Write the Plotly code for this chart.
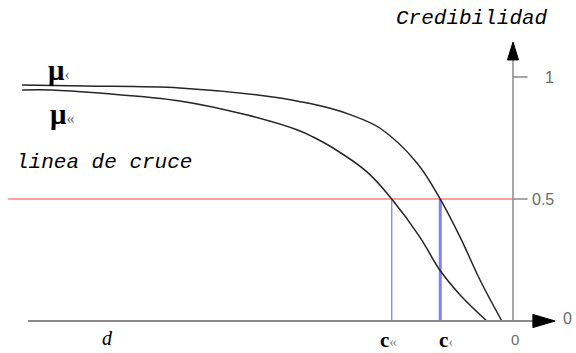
import plotly.graph_objects as go

# Curvas de credibilidad frente a la distancia (0 = eje vertical)
x_mu1 = [-101.2, -88.2, -68.7, -48.0, -43.9, -37.7, -33.6, -27.4, -19.8, -15.0, -10.9, -6.8, -2.3]
y_mu1 = [0.967, 0.963, 0.955, 0.914, 0.899, 0.872, 0.846, 0.790, 0.648, 0.5, 0.344, 0.168, 0.0]
x_mu2 = [-101.2, -95.1, -85.2, -68.7, -54.8, -43.9, -41.2, -37.1, -30.1, -25.0, -19.2, -15.1, -10.9, -5.4]
y_mu2 = [0.947, 0.947, 0.934, 0.902, 0.844, 0.779, 0.754, 0.709, 0.611, 0.5, 0.344, 0.209, 0.107, 0.0]

cruce = 0.5                 # linea de cruce
c_corte = [-25.0, -15.0]    # c«, c‹
c_anchos = [1.3, 3.0]
y_ticks = [1.0, 0.5]
y_tick_text = ["1", "0.5"]

AX_GRAY = "#8a8a8a"
TXT_GRAY = "#6a6a6a"
ITAL_FONT = "Liberation Mono"

fig = go.Figure()

# linea de cruce
fig.add_trace(go.Scatter(x=[-104.1, 0], y=[cruce, cruce], mode="lines",
                         line=dict(color="#ff8080", width=1.3), hoverinfo="skip"))
# cortes verticales
for c, w in zip(c_corte, c_anchos):
    fig.add_trace(go.Scatter(x=[c, c], y=[0, cruce], mode="lines",
                             line=dict(color="#7f7fff", width=w), hoverinfo="skip"))

# curvas
for xs, ys in ((x_mu1, y_mu1), (x_mu2, y_mu2)):
    fig.add_trace(go.Scatter(x=xs, y=ys, mode="lines", line_shape="spline",
                             line=dict(color="#262626", width=1.5), hoverinfo="skip"))

shapes = []
# eje horizontal y flecha
shapes.append(dict(type="line", x0=-100, x1=4.1, y0=0, y1=0,
                   line=dict(color=AX_GRAY, width=2)))
shapes.append(dict(type="path", path="M 4.1,0.027 L 8.7,0 L 4.1,-0.027 Z",
                   fillcolor="black", line=dict(color="black", width=1)))
# eje vertical y flecha
shapes.append(dict(type="line", x0=0, x1=0, y0=0, y1=1.07,
                   line=dict(color=AX_GRAY, width=1.5)))
shapes.append(dict(type="path", path="M -1.15,1.07 L 0,1.143 L 1.15,1.07 Z",
                   fillcolor="black", line=dict(color="black", width=1)))
# marcas del eje vertical
for t in y_ticks:
    shapes.append(dict(type="line", x0=0, x1=3.0, y0=t, y1=t,
                       line=dict(color=AX_GRAY, width=1.5)))

annotations = []
for t, s in zip(y_ticks, y_tick_text):
    annotations.append(dict(x=8.9, y=t, text=s, showarrow=False, xanchor="right",
                            font=dict(family="Liberation Sans", size=16, color=TXT_GRAY)))
annotations += [
    dict(x=11.3, y=0.012, text="0", showarrow=False,
         font=dict(family="Liberation Sans", size=16, color=TXT_GRAY)),
    dict(x=0.4, y=-0.074, text="0", showarrow=False,
         font=dict(family="Liberation Sans", size=15, color=TXT_GRAY)),
    dict(x=-8.4, y=1.238, text="<i>Credibilidad</i>", showarrow=False,
         font=dict(family=ITAL_FONT, size=21, color="black")),
    dict(x=-84.3, y=0.648, text="<i>linea de cruce</i>", showarrow=False,
         font=dict(family=ITAL_FONT, size=21, color="black")),
    dict(x=-83.7, y=-0.07, text="<i>d</i>", showarrow=False,
         font=dict(family="Liberation Serif", size=20, color="black")),
    dict(x=-25.6, y=-0.078, text="<b>c</b><span style='font-size:15px;color:#888'>«</span>",
         showarrow=False, font=dict(family="Liberation Serif", size=21, color="black")),
    dict(x=-13.8, y=-0.078, text="<b>c</b><span style='font-size:15px;color:#888'>‹</span>",
         showarrow=False, font=dict(family="Liberation Serif", size=21, color="black")),
    dict(x=-93.6, y=1.03, text="<b>μ</b><span style='font-size:16px;color:#666'>‹</span>",
         showarrow=False, font=dict(family="Liberation Serif", size=29, color="black")),
    dict(x=-93.0, y=0.85, text="<b>μ</b><span style='font-size:16px;color:#666'>«</span>",
         showarrow=False, font=dict(family="Liberation Serif", size=29, color="black")),
]

fig.update_layout(
    width=576, height=353,
    margin=dict(l=0, r=0, t=0, b=0),
    paper_bgcolor="white", plot_bgcolor="white",
    showlegend=False,
    xaxis=dict(range=[-105.77, 12.99], visible=False, fixedrange=True),
    yaxis=dict(range=[-0.1311, 1.3156], visible=False, fixedrange=True),
    shapes=shapes, annotations=annotations,
)

fig.write_html("out.html")
